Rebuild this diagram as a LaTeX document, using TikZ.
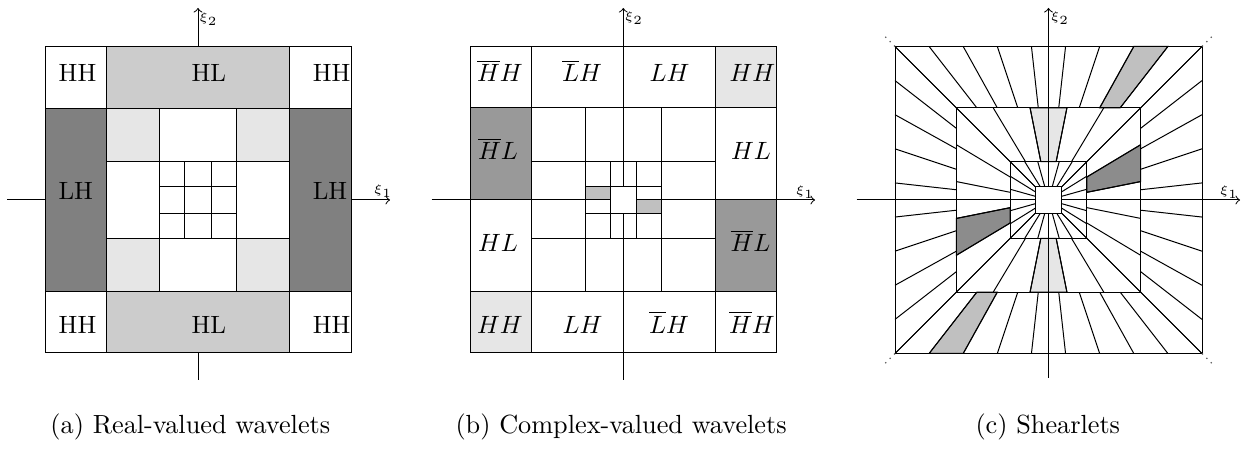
\documentclass[tikz,border=0pt]{standalone}
\definecolor{cA}{HTML}{808080}
\definecolor{cB}{HTML}{CCCCCC}
\definecolor{cL}{HTML}{E6E6E6}
\definecolor{cM}{HTML}{999999}
\definecolor{cS}{HTML}{C0C0C0}
\definecolor{cD}{HTML}{8C8C8C}
\begin{document}
\begin{tikzpicture}[x=0.4pt,y=-0.4pt, line width=0.4pt,
  lab/.style={anchor=base, inner sep=0pt, font=\normalsize},
  xilab/.style={inner sep=0pt, font=\tiny},
  axis/.style={->},
  capt/.style={anchor=base west, inner sep=0pt, font=\fontsize{10.5}{12}\selectfont}]
\useasboundingbox (0,0) rectangle (1242,457);

% ---------------- panel (a)
\draw[axis] (7,200) -- (390,200);
\draw[axis] (198,380) -- (198,8);
\node[xilab] (ax1) at (383,191) {$\xi_1$};
\node[xilab] (ax2) at (208.5,19) {$\xi_2$};
\fill[white] (45,47) rectangle (351,353);
\fill[cB] (106.2,47) rectangle (289.8,108.2) (106.2,291.8) rectangle (289.8,353);
\fill[cA] (45,108.2) rectangle (106.2,291.8) (289.8,108.2) rectangle (351,291.8);
\fill[cL] (106.2,108.2) rectangle (159.7,161.7) (236.3,108.2) rectangle (289.8,161.7)
          (106.2,238.3) rectangle (159.7,291.8) (236.3,238.3) rectangle (289.8,291.8);
\draw (45,47) rectangle (351,353);
\draw (106.2,47) -- (106.2,353) (289.8,47) -- (289.8,353) (45,108.2) -- (351,108.2) (45,291.8) -- (351,291.8);
\draw (159.7,108.2) -- (159.7,291.8) (236.3,108.2) -- (236.3,291.8) (106.2,161.7) -- (289.8,161.7) (106.2,238.3) -- (289.8,238.3);
\draw (184.7,161.7) -- (184.7,238.3) (211.3,161.7) -- (211.3,238.3) (159.7,186.7) -- (236.3,186.7) (159.7,213.3) -- (236.3,213.3);
\node[lab] (a1) at (77.5,81.7) {HH};
\node[lab] (a2) at (208.7,81.7) {HL};
\node[lab] (a3) at (331.7,81.7) {HH};
\node[lab] (a4) at (75.8,200) {LH};
\node[lab] (a5) at (330,200) {LH};
\node[lab] (a6) at (77.5,333.3) {HH};
\node[lab] (a7) at (208.7,333.3) {HL};
\node[lab] (a8) at (331.7,333.3) {HH};

% ---------------- panel (b)
\fill[cL] (715.3,47) rectangle (776.7,108) (470,292) rectangle (531.3,353);
\fill[cM] (470,108) rectangle (531.3,200) (715.3,200) rectangle (776.7,292);
\fill[cS] (585.7,186.7) rectangle (610,200) (636.7,200) rectangle (661.7,213.3);
\draw (470,47) rectangle (776.7,353);
\draw (531.3,47) -- (531.3,353) (715.3,47) -- (715.3,353) (470,108) -- (776.7,108) (470,292) -- (776.7,292);
\draw (585.7,108) -- (585.7,292) (661.7,108) -- (661.7,292) (531.3,161.7) -- (715.3,161.7) (531.3,238.3) -- (715.3,238.3);
\draw (610,161.7) -- (610,238.3) (636.7,161.7) -- (636.7,238.3) (585.7,186.7) -- (661.7,186.7) (585.7,213.3) -- (661.7,213.3);
\draw[axis] (431.7,200) -- (815,200);
\draw[axis] (623.3,380) -- (623.3,8);
\node[xilab] (bx1) at (805,192) {$\xi_1$};
\node[xilab] (bx2) at (634,18) {$\xi_2$};
\filldraw[fill=white] (610,186.7) rectangle (636.7,213.3);
\node[lab] (b1) at (500,81.7) {$\overline{H}H$};
\node[lab] (b2) at (582,81.7) {$\overline{L}H$};
\node[lab] (b3) at (669.6,81.7) {$LH$};
\node[lab] (b4) at (752.5,81.7) {$HH$};
\node[lab] (b5) at (498,160) {$\overline{H}L$};
\node[lab] (b6) at (751,160) {$HL$};
\node[lab] (b7) at (498,251.7) {$HL$};
\node[lab] (b8) at (750.5,251.7) {$\overline{H}L$};
\node[lab] (b9) at (500,333.3) {$HH$};
\node[lab] (b10) at (582.5,333.3) {$LH$};
\node[lab] (b11) at (669,333.3) {$\overline{L}H$};
\node[lab] (b12) at (752,333.3) {$\overline{H}H$};

% ---------------- panel (c)
\def\Ro{153.5}\def\Rt{92.2}\def\Rh{38.3}\def\Rc{13.3}
\begin{scope}[shift={(1048.5,200)}]
  \filldraw[fill=cS] ({0.5556*\Ro},-\Ro) -- ({0.7778*\Ro},-\Ro) -- ({0.7778*\Rt},-\Rt) -- ({0.5556*\Rt},-\Rt) -- cycle;
  \filldraw[fill=cS] ({-0.5556*\Ro},\Ro) -- ({-0.7778*\Ro},\Ro) -- ({-0.7778*\Rt},\Rt) -- ({-0.5556*\Rt},\Rt) -- cycle;
  \filldraw[fill=cL] ({-0.2*\Rt},-\Rt) -- ({0.2*\Rt},-\Rt) -- ({0.2*\Rh},-\Rh) -- ({-0.2*\Rh},-\Rh) -- cycle;
  \filldraw[fill=cL] ({-0.2*\Rt},\Rt) -- ({0.2*\Rt},\Rt) -- ({0.2*\Rh},\Rh) -- ({-0.2*\Rh},\Rh) -- cycle;
  \filldraw[fill=cD] (\Rt,{-0.6*\Rt}) -- (\Rt,{-0.2*\Rt}) -- (\Rh,{-0.2*\Rh}) -- (\Rh,{-0.6*\Rh}) -- cycle;
  \filldraw[fill=cD] (-\Rt,{0.2*\Rt}) -- (-\Rt,{0.6*\Rt}) -- (-\Rh,{0.6*\Rh}) -- (-\Rh,{0.2*\Rh}) -- cycle;
  \foreach \r in {0,90,180,270}{
    \begin{scope}[rotate=\r]
      \foreach \t in {-1,-0.7778,-0.5556,-0.3333,-0.1111,0.1111,0.3333,0.5556,0.7778,1}
        \draw ({\t*\Ro},-\Ro) -- ({\t*\Rt},-\Rt);
      \foreach \t in {-1,-0.6,-0.2,0.2,0.6,1}
        \draw ({\t*\Rt},-\Rt) -- ({\t*\Rh},-\Rh);
      \foreach \t in {-1,-0.62,-0.28,0.28,0.62,1}
        \draw ({\t*\Rh},-\Rh) -- ({\t*\Rc},-\Rc);
    \end{scope}
  }
  \draw (-\Ro,-\Ro) rectangle (\Ro,\Ro);
  \draw (-\Rt,-\Rt) rectangle (\Rt,\Rt);
  \draw (-\Rh,-\Rh) rectangle (\Rh,\Rh);
  \draw[dotted, black!65, line width=0.5pt] (\Ro,\Ro) -- (166,166) (-\Ro,\Ro) -- (-166,166) (\Ro,-\Ro) -- (166,-166) (-\Ro,-\Ro) -- (-166,-166);
\end{scope}
\draw[axis] (856.7,200) -- (1240,200);
\draw[axis] (1048.5,378) -- (1048.5,8);
\node[xilab] (cx1) at (1229,192) {$\xi_1$};
\node[xilab] (cx2) at (1060,18) {$\xi_2$};
\filldraw[fill=white] (1035.2,186.7) rectangle (1061.8,213.3);

% ---------------- captions
\node[capt] (capa) at (50,434) {(a) Real-valued wavelets};
\node[capt] (capb) at (455,434) {(b) Complex-valued wavelets};
\node[capt] (capc) at (975,434) {(c) Shearlets};
\end{tikzpicture}
\end{document}
